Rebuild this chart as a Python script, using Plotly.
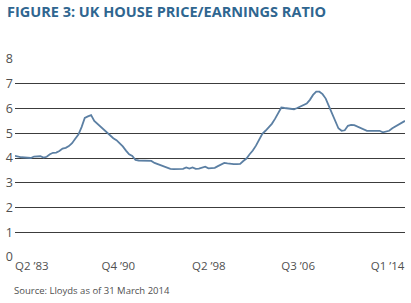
import plotly.graph_objects as go

ratio = [4.09, 4.05, 4.03, 4.02, 4.01, 4.00, 4.06, 4.07, 4.07, 4.02,
         4.05, 4.15, 4.21, 4.22, 4.28, 4.38, 4.41, 4.48, 4.60, 4.78,
         4.95, 5.25, 5.62, 5.68, 5.73, 5.50, 5.38, 5.25, 5.12, 5.00,
         4.92, 4.80, 4.72, 4.60, 4.47, 4.30, 4.15, 4.08, 3.92, 3.90,
         3.90, 3.90, 3.90, 3.88, 3.80, 3.75, 3.73, 3.68, 3.60, 3.56,
         3.55, 3.55, 3.55, 3.56, 3.62, 3.57, 3.62, 3.56, 3.57, 3.60,
         3.65, 3.58, 3.58, 3.60, 3.67, 3.72, 3.80, 3.78, 3.75, 3.75,
         3.75, 3.76, 3.88, 3.98, 4.15, 4.30, 4.50, 4.75, 4.98, 5.10,
         5.25, 5.38, 5.58, 5.80, 6.04, 6.02, 6.00, 5.97, 5.97, 6.02,
         6.08, 6.17, 6.20, 6.35, 6.55, 6.68, 6.68, 6.58, 6.40, 6.10,
         5.78, 5.50, 5.20, 5.10, 5.12, 5.30, 5.34, 5.33, 5.28, 5.23,
         5.15, 5.10, 5.10, 5.10, 5.10, 5.10, 5.04, 5.08, 5.10, 5.20,
         5.27, 5.33, 5.42, 5.50]
quarter_index = list(range(len(ratio)))
tick_labels = ["Q2 \u201983", "Q4 \u201990", "Q2 \u201998", "Q3 \u201906", "Q1 \u201914"]
tick_positions = [5.3, 32.6, 61.1, 89.3, 117.5]
y_ticks = [0, 1, 2, 3, 4, 5, 6, 7, 8]

fig = go.Figure()
fig.add_trace(go.Scatter(x=quarter_index, y=ratio, mode="lines",
                         line=dict(color="#5b7fa3", width=1.8),
                         hoverinfo="skip", showlegend=False))

W, H = 411, 303
L, R, T, B = 13, 6, 59, 46
pw = W - L - R
ph = H - T - B

fig.update_layout(
    width=W, height=H,
    margin=dict(l=L, r=R, t=T, b=B),
    paper_bgcolor="white", plot_bgcolor="white",
    font=dict(family="Open Sans", size=12, color="#505050"),
    xaxis=dict(range=[0, len(ratio) - 1], showgrid=False, zeroline=False,
               showline=False, tickmode="array", tickvals=tick_positions,
               ticktext=tick_labels, ticks="", tickfont=dict(size=11.5, color="#505050")),
    yaxis=dict(range=[0, 8], tickmode="array", tickvals=y_ticks,
               showgrid=True, gridcolor="#3c3c3c", gridwidth=1,
               zeroline=False, showline=False, ticks="",
               tickfont=dict(size=12.5, color="#505050"), ticklabelstandoff=1),
    annotations=[
        dict(text="<b>FIGURE 3: UK HOUSE PRICE/EARNINGS RATIO</b>",
             xref="paper", yref="paper", x=(3 - L) / pw, y=(H - B - 11) / ph,
             xanchor="left", yanchor="middle", showarrow=False,
             font=dict(family="Open Sans", size=14.5, color="#2f6690")),
        dict(text="Source: Lloyds as of 31 March 2014",
             xref="paper", yref="paper", x=(10 - L) / pw, y=(H - B - 290) / ph,
             xanchor="left", yanchor="middle", showarrow=False,
             font=dict(family="Open Sans", size=9.5, color="#505050")),
    ],
)
fig.write_html("out.html")
